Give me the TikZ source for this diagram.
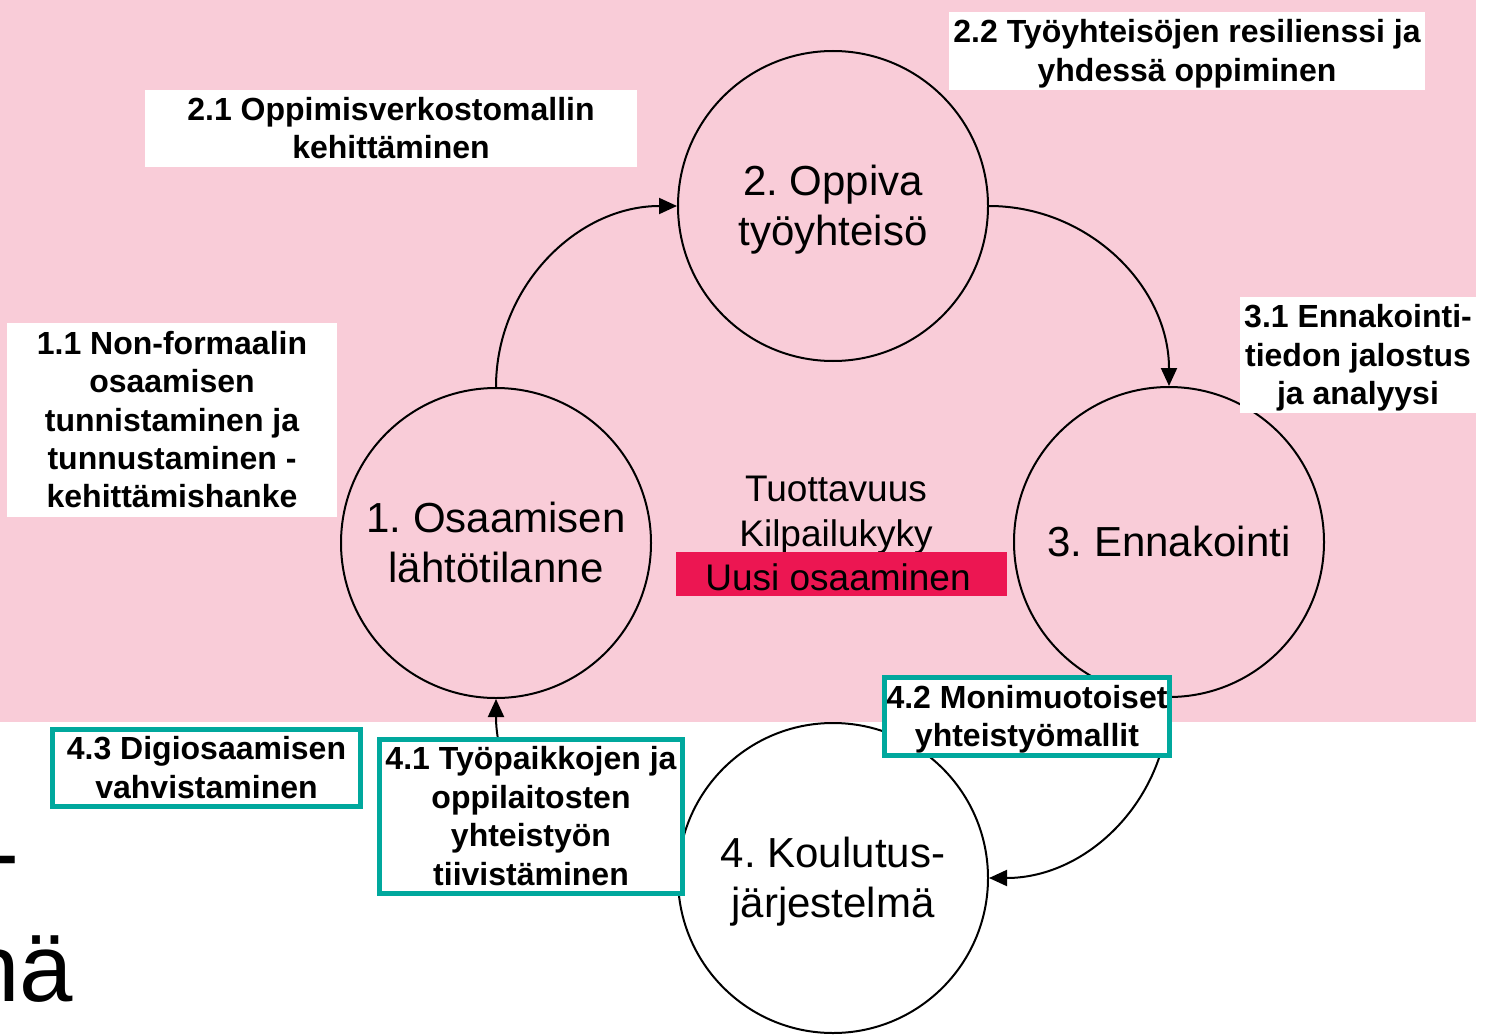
\documentclass[tikz,border=0pt]{standalone}
\usepackage{fontspec}
\setmainfont{Liberation Sans}
\usetikzlibrary{arrows.meta}
\definecolor{bgpink}{RGB}{249,204,216}
\definecolor{hired}{RGB}{236,22,82}
\definecolor{tealb}{RGB}{0,168,157}
\newcommand{\pst}{\rule[-0.212em]{0pt}{1.117em}}
\frenchspacing
\begin{document}
\begin{tikzpicture}[x=1pt,y=-1pt,
  stage/.style={circle, draw, line width=2pt, minimum size=310pt, inner sep=0pt, align=center,
    font=\fontsize{42}{50}\selectfont},
  wbox/.style={fill=white, inner sep=0pt, align=center,
    font=\bfseries\fontsize{32}{38.4}\selectfont},
  tbox/.style={wbox, draw=tealb, line width=4.5pt},
  flow/.style={line width=2pt, -{Triangle[length=18pt,width=16pt]}},
  bigtext/.style={inner sep=0pt, font=\fontsize{96}{110}\selectfont},
  midtext/.style={inner sep=0pt, align=center, font=\fontsize{37}{45}\selectfont}
]
\useasboundingbox (0,0) rectangle (1485,1035);
\fill[bgpink] (0,0) rectangle (1476,722);

% fragments of background text
\begin{scope}
\clip (0,0) rectangle (1485,1035);
\node[bigtext, anchor=base east] (frag1) at (20,885) {-};
\node[bigtext, anchor=base east] (frag2) at (73.5,1001) {nä};
\end{scope}

% stages
\node[stage] (c1) at (496,543) {\pst 1. Osaamisen\\lähtötilanne\pst};
\node[stage] (c2) at (833,206) {\pst 2. Oppiva\\työyhteisö\pst};
\node[stage] (c3) at (1169,542) {\pst 3. Ennakointi};
\node[stage] (c4) at (833,878) {\pst 4. Koulutus-\\järjestelmä\pst};

% cycle arrows
\draw[flow] (c1.north) to[out=90,in=180] (c2.west);
\draw[flow] (c2.east) to[out=0,in=90] (c3.north);
\draw[flow] (c3.south) to[out=-90,in=0] (c4.east);
\draw[flow] (c4.west) to[out=180,in=-90] (c1.south);

% centre
\node[midtext] (goals) at (836,511) {\pst Tuottavuus\\Kilpailukyky\pst};
\node[fill=hired, minimum width=331pt, minimum height=44pt, inner sep=0pt] (new) at (841.5,574) {};
\node[midtext] (newt) at (838,578) {\pst Uusi osaaminen};

% white labels
\node[wbox, minimum width=492pt, minimum height=77pt] (l21) at (391,128.5)
  {\pst 2.1 Oppimisverkostomallin\\kehittäminen\pst};
\node[wbox, minimum width=476pt, minimum height=78pt] (l22) at (1187,51)
  {\pst 2.2 Työyhteisöjen resilienssi ja\\yhdessä oppiminen\pst};
\node[wbox, minimum width=330pt, minimum height=194pt] (l11) at (172,420)
  {\pst 1.1 Non-formaalin\\osaamisen\\tunnistaminen ja\\tunnustaminen -\\kehittämishanke\pst};
\node[wbox, minimum width=236pt, minimum height=116pt] (l31) at (1358,355)
  {\pst 3.1 Ennakointi-\\tiedon jalostus\\ja analyysi\pst};

% teal labels
\node[tbox, minimum width=308pt, minimum height=77pt] (l43) at (206.5,768)
  {\pst 4.3 Digiosaamisen\\vahvistaminen\pst};
\node[tbox, minimum width=303pt, minimum height=154pt] (l41) at (531,816.5)
  {\pst 4.1 Työpaikkojen ja\\oppilaitosten\\yhteistyön\\tiivistäminen\pst};
\node[tbox, minimum width=285pt, minimum height=78pt] (l42) at (1027,716.5)
  {\pst 4.2 Monimuotoiset\\yhteistyömallit\pst};
\end{tikzpicture}
\end{document}
